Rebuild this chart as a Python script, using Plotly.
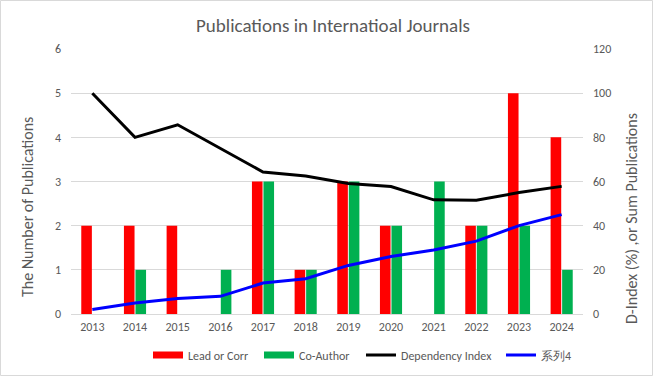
import plotly.graph_objects as go

years = ["2013", "2014", "2015", "2016", "2017", "2018", "2019", "2020", "2021", "2022", "2023", "2024"]
lead_or_corr = [2, 2, 2, 0, 3, 1, 3, 2, 0, 2, 5, 4]
co_author = [0, 1, 0, 1, 3, 1, 3, 2, 3, 2, 2, 1]
dependency_index = [100, 80, 85.7, 75, 64.3, 62.5, 59.1, 57.7, 51.7, 51.5, 55, 57.8]
sum_publications = [2, 5, 7, 8, 14, 16, 22, 26, 29, 33, 40, 45]

RED, GREEN, BLACK, BLUE = "#ff0000", "#00b050", "#000000", "#0000ff"
FONT = "Carlito, Calibri, Lato, sans-serif"
GREY = "#595959"

fig = go.Figure()
fig.add_trace(go.Bar(x=years, y=lead_or_corr, name="Lead or Corr", marker_color=RED,
                     marker_line_width=0, showlegend=False))
fig.add_trace(go.Bar(x=years, y=co_author, name="Co-Author", marker_color=GREEN,
                     marker_line_width=0, showlegend=False))
# legend entries drawn as wide swatches (like the original)
fig.add_trace(go.Scatter(x=[None], y=[None], name="Lead or Corr", mode="lines",
                         line=dict(color=RED, width=7), legend="legend"))
fig.add_trace(go.Scatter(x=[None], y=[None], name="Co-Author", mode="lines",
                         line=dict(color=GREEN, width=7), legend="legend2"))
fig.add_trace(go.Scatter(x=years, y=dependency_index, name="Dependency Index", mode="lines",
                         line=dict(color=BLACK, width=3), yaxis="y2", legend="legend3"))
fig.add_trace(go.Scatter(x=years, y=sum_publications, name="系列4", mode="lines",
                         line=dict(color=BLUE, width=3), yaxis="y2", legend="legend4"))

W, H = 653, 376
L, R, T, B = 71, 70, 49, 62
pw, ph = W - L - R, H - T - B


def leg(px):
    return dict(orientation="h", x=(px - L) / pw, xanchor="left", y=-(355 - 314) / ph,
                yanchor="middle", font=dict(size=12, color=GREY), tracegroupgap=0,
                bgcolor="rgba(0,0,0,0)")


fig.update_layout(
    width=W, height=H,
    margin=dict(l=L, r=R, t=T, b=B, autoexpand=False),
    paper_bgcolor="white", plot_bgcolor="white",
    font=dict(family=FONT, color=GREY, size=12),
    title=dict(text="Publications in Internatioal Journals", x=333 / W, xanchor="center",
               y=1 - 25 / H, yanchor="middle", font=dict(size=19, color=GREY, family=FONT)),
    barmode="group", bargap=0.46, bargroupgap=0.08,
    xaxis=dict(showgrid=False, showline=False, ticks="", automargin=False,
               ticklabelstandoff=4, tickfont=dict(size=12, color=GREY)),
    yaxis=dict(range=[0, 6], dtick=1, showgrid=True, gridcolor="#d9d9d9", gridwidth=1,
               zeroline=True, zerolinecolor="#d9d9d9", zerolinewidth=1, ticks="",
               automargin=False, ticklabelstandoff=9,
               tickfont=dict(size=12, color=GREY)),
    yaxis2=dict(range=[0, 120], dtick=20, overlaying="y", side="right", showgrid=False,
                zeroline=False, ticks="", automargin=False, ticklabelstandoff=9,
                tickfont=dict(size=12, color=GREY)),
    legend=leg(148), legend2=leg(259), legend3=leg(361), legend4=leg(501),
    annotations=[
        dict(text="The Number of Publications", xref="paper", yref="paper",
             x=-(L - 27) / pw, y=(314 - 207) / ph, textangle=-90, showarrow=False,
             xanchor="center", yanchor="middle", font=dict(size=16, color=GREY)),
        dict(text="D-Index (%) ,or Sum Publications", xref="paper", yref="paper",
             x=1 + (631 - (W - R)) / pw, y=(314 - 219) / ph, textangle=-90, showarrow=False,
             xanchor="center", yanchor="middle", font=dict(size=16, color=GREY)),
    ],
    shapes=[dict(type="rect", xref="paper", yref="paper",
                 x0=-(L - 0.5) / pw, x1=1 + (R - 0.5) / pw,
                 y0=-(B - 0.5) / ph, y1=1 + (T - 0.5) / ph,
                 line=dict(color="#d9d9d9", width=1), fillcolor="rgba(0,0,0,0)", layer="below")],
)

fig.write_html("out.html", config={"displayModeBar": False},
               post_script="document.body.style.margin='0';document.body.style.overflow='hidden';")
